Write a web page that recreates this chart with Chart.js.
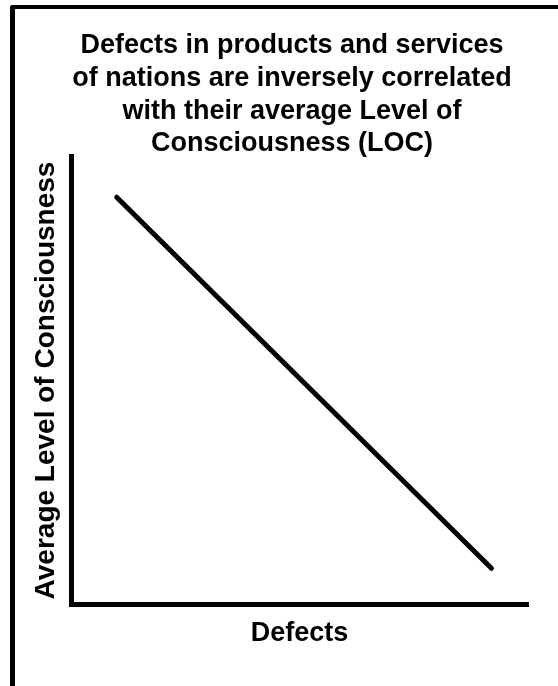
<!DOCTYPE html>
<html>
<head>
<meta charset="utf-8">
<title>Defects vs Level of Consciousness</title>
<script src="https://cdn.jsdelivr.net/npm/chart.js@4/dist/chart.umd.min.js"></script>
<style>
    html, body { margin: 0; padding: 0; background: #fff; overflow: hidden; }
    #wrap { position: relative; width: 558px; height: 686px; }
    /* the picture's own frame: thick left and top rules only */
    #frame {
        position: absolute; left: 10px; top: 5px; width: 620px; height: 720px;
        border-left: 5px solid #000; border-top: 4px solid #000;
        border-top-left-radius: 3px; box-sizing: border-box;
    }
    #chart { position: absolute; left: 0; top: 0; }
</style>
</head>
<body>
<div id="wrap">
    <div id="frame"></div>
    <canvas id="chart" width="558" height="686"></canvas>
</div>
<script>
// ---- data (axes run 0..100 with no ticks) --------------------------------
var defects = [10, 92];   // x: Defects
var loc = [91, 8];        // y: Average Level of Consciousness

var titleLines = [
    'Defects in products and services',
    'of nations are inversely correlated',
    'with their average Level of',
    'Consciousness (LOC)'
];
var xTitle = 'Defects';
var yTitle = 'Average Level of Consciousness';

(function () {
    'use strict';

    var FONT = '"Liberation Sans", Arial, Helvetica, sans-serif';

    Chart.defaults.color = '#000';
    Chart.defaults.font.family = FONT;
    Chart.defaults.animation = false;

    var points = defects.map(function (x, i) { return { x: x, y: loc[i] }; });

    // centre the title a little right of the canvas middle, as in the source
    var shiftTitle = {
        id: 'shiftTitle',
        afterLayout: function (chart) {
            if (chart.titleBlock) {
                chart.titleBlock.left = 26;
                chart.titleBlock.right = 558;
            }
        }
    };

    var axis = function (title, size, padding) {
        return {
            type: 'linear',
            min: 0,
            max: 100,
            ticks: { display: false },
            grid: { display: false, drawTicks: false },
            border: { display: true, color: '#000', width: 5 },
            title: {
                display: true,
                text: title,
                color: '#000',
                font: { size: size, weight: 'bold', lineHeight: 1.2 },
                padding: padding
            }
        };
    };

    new Chart(document.getElementById('chart'), {
        type: 'scatter',
        data: {
            datasets: [{
                label: 'LOC',
                data: points,
                showLine: true,
                borderColor: '#000',
                backgroundColor: '#000',
                borderWidth: 5,
                borderCapStyle: 'round',
                pointRadius: 0,
                pointHoverRadius: 0
            }]
        },
        options: {
            responsive: false,
            layout: { padding: { left: 26, right: 30, top: 10, bottom: 35.8 } },
            plugins: {
                legend: { display: false },
                tooltip: { enabled: false },
                title: {
                    display: true,
                    text: titleLines,
                    color: '#000',
                    font: { size: 27, weight: 'bold', lineHeight: 1.21 },
                    padding: { top: 19.7, bottom: -3.4 }
                }
            },
            scales: {
                x: axis(xTitle, 27, { top: 13.8, bottom: 0 }),
                y: axis(yTitle, 28, { top: 3.2, bottom: 8.2 })
            }
        },
        plugins: [shiftTitle]
    });
})();
</script>
</body>
</html>
